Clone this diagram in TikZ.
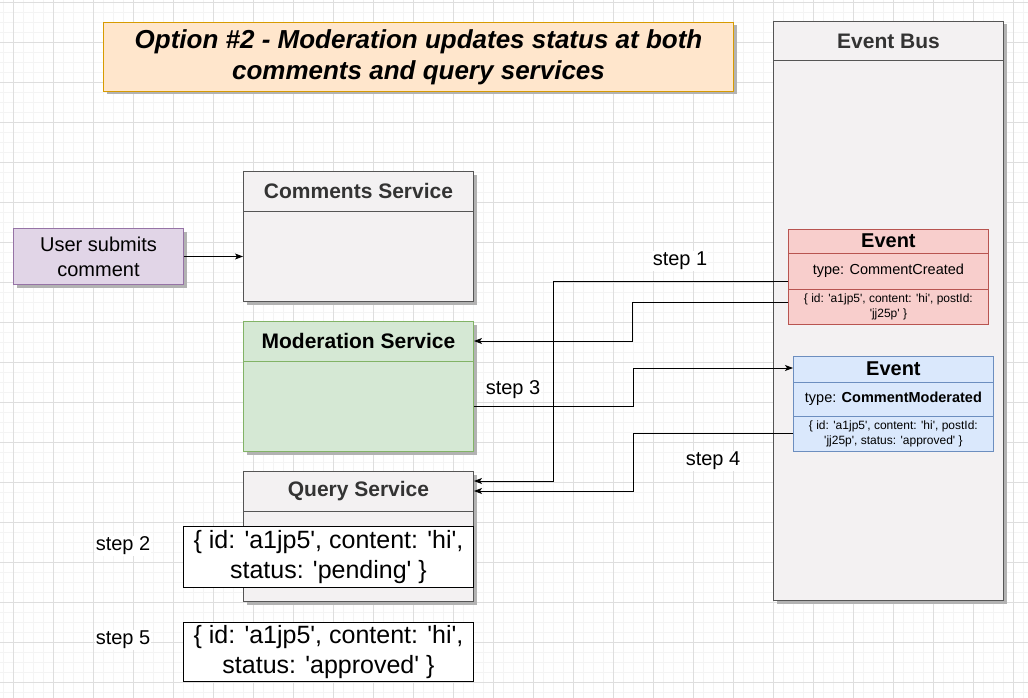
\documentclass[tikz,border=0pt]{standalone}
\usepackage{fontspec}
\setmainfont{Liberation Sans}
\usetikzlibrary{shadows,arrows.meta}
\newcommand{\sq}{\textquotesingle}
\definecolor{gridlo}{HTML}{F4F4F4}
\definecolor{gridhi}{HTML}{DEDEDE}
\definecolor{svcfill}{HTML}{F3F1F2}
\definecolor{svcline}{HTML}{555555}
\definecolor{svctext}{HTML}{333333}
\definecolor{titlefill}{HTML}{FFE6CC}
\definecolor{titleline}{HTML}{D79B00}
\definecolor{userfill}{HTML}{E1D5E7}
\definecolor{userline}{HTML}{9673A6}
\definecolor{modfill}{HTML}{D5E8D4}
\definecolor{modline}{HTML}{82B366}
\definecolor{redfill}{HTML}{F8CECC}
\definecolor{redline}{HTML}{B85450}
\definecolor{bluefill}{HTML}{DAE8FC}
\definecolor{blueline}{HTML}{6C8EBF}
\tikzset{
  shade3/.style={drop shadow={shadow xshift=3pt,shadow yshift=-3pt,fill=black!30,opacity=1}},
  svc/.style={draw=svcline,fill=svcfill,line width=1pt,anchor=north west,inner sep=0pt,
    minimum width=230pt,minimum height=130pt,shade3},
  svchead/.style={font=\fontsize{21}{25}\selectfont\bfseries,text=svctext},
  event/.style={draw=#1line,fill=#1fill,line width=0.8pt,anchor=north west,inner sep=0pt,
    minimum width=200pt,minimum height=95pt},
  flow/.style={line width=0.9pt,-{Stealth[length=8pt,width=6pt,inset=2pt]}},
  steplbl/.style={font=\fontsize{20}{24}\selectfont,fill=white,inner sep=1pt},
  record/.style={draw,fill=white,line width=0.9pt,anchor=north west,inner sep=0pt,
    minimum width=290pt,minimum height=60pt,align=center,font=\fontsize{25}{30}\selectfont}
}
\begin{document}
\begin{tikzpicture}[x=1pt,y=-1pt]
  \useasboundingbox (0,0) rectangle (1028,698);
  \fill[white] (0,0) rectangle (1028,698);
  % grid
  \foreach \gx in {3,13,...,1023} \draw[gridlo,line width=0.6pt] (\gx,0) -- (\gx,698);
  \foreach \gy in {2,12,...,692} \draw[gridlo,line width=0.6pt] (0,\gy) -- (1028,\gy);
  \foreach \gx in {13,53,...,1013} \draw[gridhi,line width=0.7pt] (\gx,0) -- (\gx,698);
  \foreach \gy in {2,42,...,682} \draw[gridhi,line width=0.7pt] (0,\gy) -- (1028,\gy);

  % title
  \node[draw=titleline,fill=titlefill,line width=1pt,anchor=north west,inner sep=0pt,
    minimum width=630pt,minimum height=69pt,align=center,shade3,
    font=\fontsize{26}{31}\selectfont\bfseries\itshape] (title) at (103,22)
    {Option \#2 - Moderation updates status at both\\comments and query services};

  % event bus
  \node[svc,minimum height=579pt] (bus) at (773,21) {};
  \draw[svcline,line width=1pt] ([yshift=-40pt]bus.north west) -- ([yshift=-40pt]bus.north east);
  \node[svchead] (busHead) at ([yshift=-20pt]bus.north) {Event Bus};

  % services
  \node[svc] (comments) at (243,171) {};
  \draw[svcline,line width=1pt] ([yshift=-40pt]comments.north west) -- ([yshift=-40pt]comments.north east);
  \node[svchead] (commentsHead) at ([yshift=-20pt]comments.north) {Comments Service};

  \node[svc,draw=modline,fill=modfill] (moderation) at (243,321) {};
  \draw[modline,line width=1pt] ([yshift=-40pt]moderation.north west) -- ([yshift=-40pt]moderation.north east);
  \node[svchead,text=black] (moderationHead) at ([yshift=-20pt]moderation.north) {Moderation Service};

  \node[svc] (query) at (243,471) {};
  \draw[svcline,line width=1pt] ([yshift=-40pt]query.north west) -- ([yshift=-40pt]query.north east);
  \node[svchead] (queryHead) at ([yshift=-20pt]query.north) {Query Service};

  % user
  \node[draw=userline,fill=userfill,line width=1pt,anchor=north west,inner sep=0pt,
    minimum width=170pt,minimum height=56pt,align=center,shade3,
    font=\fontsize{20}{25}\selectfont] (user) at (13,228) {User submits\\comment};
  \draw[flow] (user.east) -- (user.east -| comments.west);

  % events
  \node[event=red] (created) at (788,229) {};
  \draw[redline,line width=0.8pt] ([yshift=-24pt]created.north west) -- ([yshift=-24pt]created.north east);
  \draw[redline,line width=0.8pt] ([yshift=-60pt]created.north west) -- ([yshift=-60pt]created.north east);
  \node[font=\fontsize{20}{24}\selectfont\bfseries] (createdHead) at ([yshift=-12pt]created.north) {Event};
  \node[font=\fontsize{14.5}{17}\selectfont] (createdType) at ([yshift=-42pt]created.north) {type: CommentCreated};
  \node[font=\fontsize{12}{15}\selectfont,align=center] (createdData) at ([yshift=-77.5pt]created.north)
    {\{ id: \sq a1jp5\sq, content: \sq hi\sq, postId:\\\sq jj25p\sq\ \}};

  \node[event=blue] (moderated) at (793,356) {};
  \draw[blueline,line width=0.8pt] ([yshift=-26pt]moderated.north west) -- ([yshift=-26pt]moderated.north east);
  \draw[blueline,line width=0.8pt] ([yshift=-60pt]moderated.north west) -- ([yshift=-60pt]moderated.north east);
  \node[font=\fontsize{20}{24}\selectfont\bfseries] (moderatedHead) at ([yshift=-13pt]moderated.north) {Event};
  \node[font=\fontsize{14.5}{17}\selectfont] (moderatedType) at ([yshift=-43pt]moderated.north) {type: \textbf{CommentModerated}};
  \node[font=\fontsize{12}{15}\selectfont,align=center] (moderatedData) at ([yshift=-77.5pt]moderated.north)
    {\{ id: \sq a1jp5\sq, content: \sq hi\sq, postId:\\\sq jj25p\sq, status: \sq approved\sq\ \}};

  % connectors
  \draw[flow] ([yshift=-52pt]created.north west) -| (553,481) -- ([yshift=-10pt]query.north east);
  \draw[flow] ([yshift=-73pt]created.north west) -| (632,341) -- ([yshift=-20pt]moderation.north east);
  \draw[flow] ([yshift=-85pt]moderation.north east) -| (633,368) -- ([yshift=-12pt]moderated.north west);
  \draw[flow] ([yshift=-77pt]moderated.north west) -| (633,491) -- ([yshift=-20pt]query.north east);

  % step labels
  \node[steplbl] (step1) at (680,261) {step 1};
  \node[steplbl] (step3) at (513,390) {step 3};
  \node[steplbl] (step4) at (713,461) {step 4};
  \node[steplbl] (step2) at (123,546) {step 2};
  \node[steplbl] (step5) at (123,640) {step 5};

  % records
  \node[record,minimum height=61pt] (pending) at (183,526)
    {\{ id: \sq a1jp5\sq, content: \sq hi\sq,\\status: \sq pending\sq\ \}};
  \node[record,minimum height=59pt] (approved) at (183,622)
    {\{ id: \sq a1jp5\sq, content: \sq hi\sq,\\status: \sq approved\sq\ \}};
\end{tikzpicture}
\end{document}
